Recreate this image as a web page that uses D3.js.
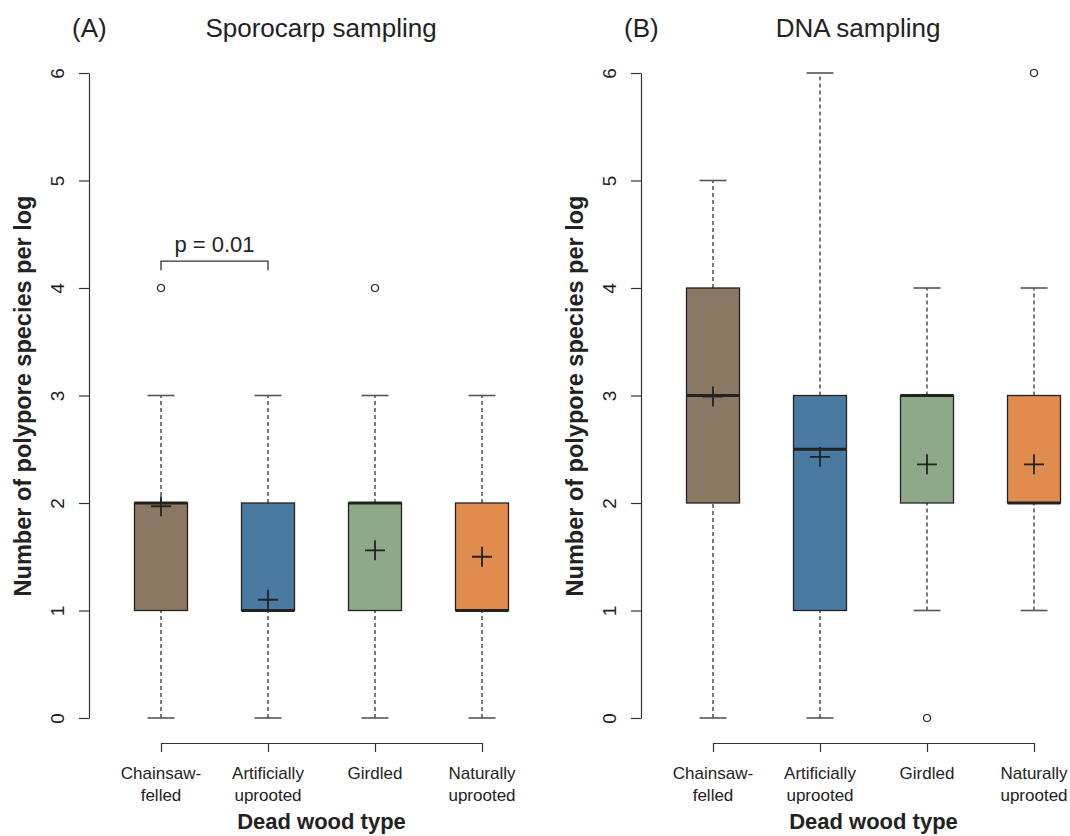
<!DOCTYPE html>
<html>
<head>
<meta charset="utf-8">
<script src="https://cdn.jsdelivr.net/npm/d3@7"></script>
<style>
  body { margin: 0; background: #fff; }
  text { font-family: "Liberation Sans", Arial, Helvetica, sans-serif; fill: #222; }
</style>
</head>
<body>
<div id="chart"></div>
<script>
// categories and tick labels
const categories = ["Chainsaw-felled", "Artificially uprooted", "Girdled", "Naturally uprooted"];
const tickLabels = [["Chainsaw-", "felled"], ["Artificially", "uprooted"], ["Girdled"], ["Naturally", "uprooted"]];
const boxColors = ["#8a7862", "#4a79a2", "#8ea987", "#e08c4e"];
const yTicks = [0, 1, 2, 3, 4, 5, 6];

// (A) sporocarp sampling
const sporoLow = [0, 0, 0, 0];
const sporoQ1 = [1, 1, 1, 1];
const sporoMedian = [2, 1, 2, 1];
const sporoQ3 = [2, 2, 2, 2];
const sporoHigh = [3, 3, 3, 3];
const sporoMean = [1.97, 1.10, 1.56, 1.50];
const sporoOutliers = [[4], [], [4], []];

// (B) DNA sampling
const dnaLow = [0, 0, 1, 1];
const dnaQ1 = [2, 1, 2, 2];
const dnaMedian = [3, 2.5, 3, 2];
const dnaQ3 = [4, 3, 3, 3];
const dnaHigh = [5, 6, 4, 4];
const dnaMean = [2.99, 2.43, 2.36, 2.36];
const dnaOutliers = [[], [], [0], [6]];

const width = 1070, height = 836;
const svg = d3.select("#chart").append("svg")
    .attr("width", width)
    .attr("height", height);

const y = d3.scaleLinear().domain([0, 6]).range([718, 73]);
const boxW = 53, capW = 27;

function toRows(low, q1, med, q3, high, mean, outs) {
    return categories.map((c, i) => ({
        cat: c, low: low[i], q1: q1[i], med: med[i], q3: q3[i], high: high[i],
        mean: mean[i], outs: outs[i], color: boxColors[i], label: tickLabels[i]
    }));
}

function drawPanel(ox, letter, title, titleX, rows) {
    const g = svg.append("g").attr("transform", `translate(${ox},0)`);
    const x = d3.scalePoint().domain(categories).range([161, 482]);
    const axisX = 89;

    // y axis
    const yAxis = g.append("g")
        .attr("transform", `translate(${axisX},0)`)
        .call(d3.axisLeft(y).tickValues(yTicks).tickFormat(d3.format("d"))
            .tickSize(10).tickSizeOuter(0));
    yAxis.select(".domain").attr("stroke", "#333").attr("stroke-width", 1.2);
    yAxis.selectAll(".tick line").attr("stroke", "#333").attr("stroke-width", 1.2);
    yAxis.selectAll(".tick text")
        .attr("x", null).attr("dy", null)
        .attr("text-anchor", "middle")
        .attr("transform", "translate(-25,0) rotate(-90)")
        .style("font-size", "19px")
        .attr("fill", "#222");

    // x axis
    const xAxis = g.append("g")
        .attr("transform", "translate(0,743)")
        .call(d3.axisBottom(x).tickSize(9).tickSizeOuter(0).tickFormat(""));
    xAxis.select(".domain").attr("stroke", "#333").attr("stroke-width", 1.2);
    xAxis.selectAll(".tick line").attr("stroke", "#333").attr("stroke-width", 1.2);
    const lbl = g.selectAll(".xlab").data(rows).enter().append("text")
        .attr("class", "xlab")
        .attr("text-anchor", "middle")
        .style("font-size", "17px");
    lbl.selectAll("tspan").data(d => d.label.map(t => ({t: t, x: x(d.cat)}))).enter()
        .append("tspan")
        .attr("x", d => d.x)
        .attr("y", (d, i) => 779 + i * 22)
        .text(d => d.t);

    // whiskers
    const bx = g.selectAll(".box").data(rows).enter().append("g");
    bx.append("line")
        .attr("x1", d => x(d.cat)).attr("x2", d => x(d.cat))
        .attr("y1", d => y(d.low)).attr("y2", d => y(d.q1))
        .attr("stroke", "#333").attr("stroke-width", 1.3).attr("stroke-dasharray", "4,3");
    bx.append("line")
        .attr("x1", d => x(d.cat)).attr("x2", d => x(d.cat))
        .attr("y1", d => y(d.q3)).attr("y2", d => y(d.high))
        .attr("stroke", "#333").attr("stroke-width", 1.3).attr("stroke-dasharray", "4,3");
    bx.selectAll(".cap").data(d => [d.low, d.high].map(v => ({v: v, x: x(d.cat)}))).enter()
        .append("line")
        .attr("x1", d => d.x - capW / 2).attr("x2", d => d.x + capW / 2)
        .attr("y1", d => y(d.v)).attr("y2", d => y(d.v))
        .attr("stroke", "#555").attr("stroke-width", 1.6);

    // boxes
    bx.append("rect")
        .attr("x", d => x(d.cat) - boxW / 2)
        .attr("y", d => y(d.q3))
        .attr("width", boxW)
        .attr("height", d => y(d.q1) - y(d.q3))
        .attr("fill", d => d.color)
        .attr("stroke", "#222").attr("stroke-width", 1.3);
    bx.append("line")
        .attr("x1", d => x(d.cat) - boxW / 2).attr("x2", d => x(d.cat) + boxW / 2)
        .attr("y1", d => y(d.med)).attr("y2", d => y(d.med))
        .attr("stroke", "#222").attr("stroke-width", 3);

    // means
    bx.append("path")
        .attr("d", d => `M${x(d.cat) - 10},${y(d.mean)}H${x(d.cat) + 10}M${x(d.cat)},${y(d.mean) - 10}V${y(d.mean) + 10}`)
        .attr("stroke", "#222").attr("stroke-width", 1.8).attr("fill", "none");

    // outliers
    bx.selectAll(".out").data(d => d.outs.map(v => ({v: v, x: x(d.cat)}))).enter()
        .append("circle")
        .attr("cx", d => d.x).attr("cy", d => y(d.v)).attr("r", 3.5)
        .attr("fill", "none").attr("stroke", "#222").attr("stroke-width", 1.2);

    // labels
    g.append("text").attr("x", 72).attr("y", 37)
        .style("font-size", "26px").text(letter);
    g.append("text").attr("x", titleX).attr("y", 37)
        .attr("text-anchor", "middle").style("font-size", "26px").text(title);
    g.append("text").attr("text-anchor", "middle")
        .attr("transform", "translate(31,396) rotate(-90)")
        .style("font-size", "23.5px").style("font-weight", "bold")
        .text("Number of polypore species per log");
    g.append("text").attr("x", 321.5).attr("y", 829)
        .attr("text-anchor", "middle")
        .style("font-size", "22px").style("font-weight", "bold")
        .text("Dead wood type");
    return {g: g, x: x};
}

const pA = drawPanel(0, "(A)", "Sporocarp sampling", 321,
    toRows(sporoLow, sporoQ1, sporoMedian, sporoQ3, sporoHigh, sporoMean, sporoOutliers));
drawPanel(552, "(B)", "DNA sampling", 306,
    toRows(dnaLow, dnaQ1, dnaMedian, dnaQ3, dnaHigh, dnaMean, dnaOutliers));

// significance bracket in panel A
const bracketY = 4.25;
const bx1 = pA.x(categories[0]), bx2 = pA.x(categories[1]);
pA.g.append("path")
    .attr("d", `M${bx1},${y(bracketY) + 9}V${y(bracketY)}H${bx2}V${y(bracketY) + 9}`)
    .attr("fill", "none").attr("stroke", "#333").attr("stroke-width", 1.3);
pA.g.append("text")
    .attr("x", (bx1 + bx2) / 2).attr("y", y(bracketY) - 9)
    .attr("text-anchor", "middle").style("font-size", "22px")
    .text("p = 0.01");
</script>
</body>
</html>
